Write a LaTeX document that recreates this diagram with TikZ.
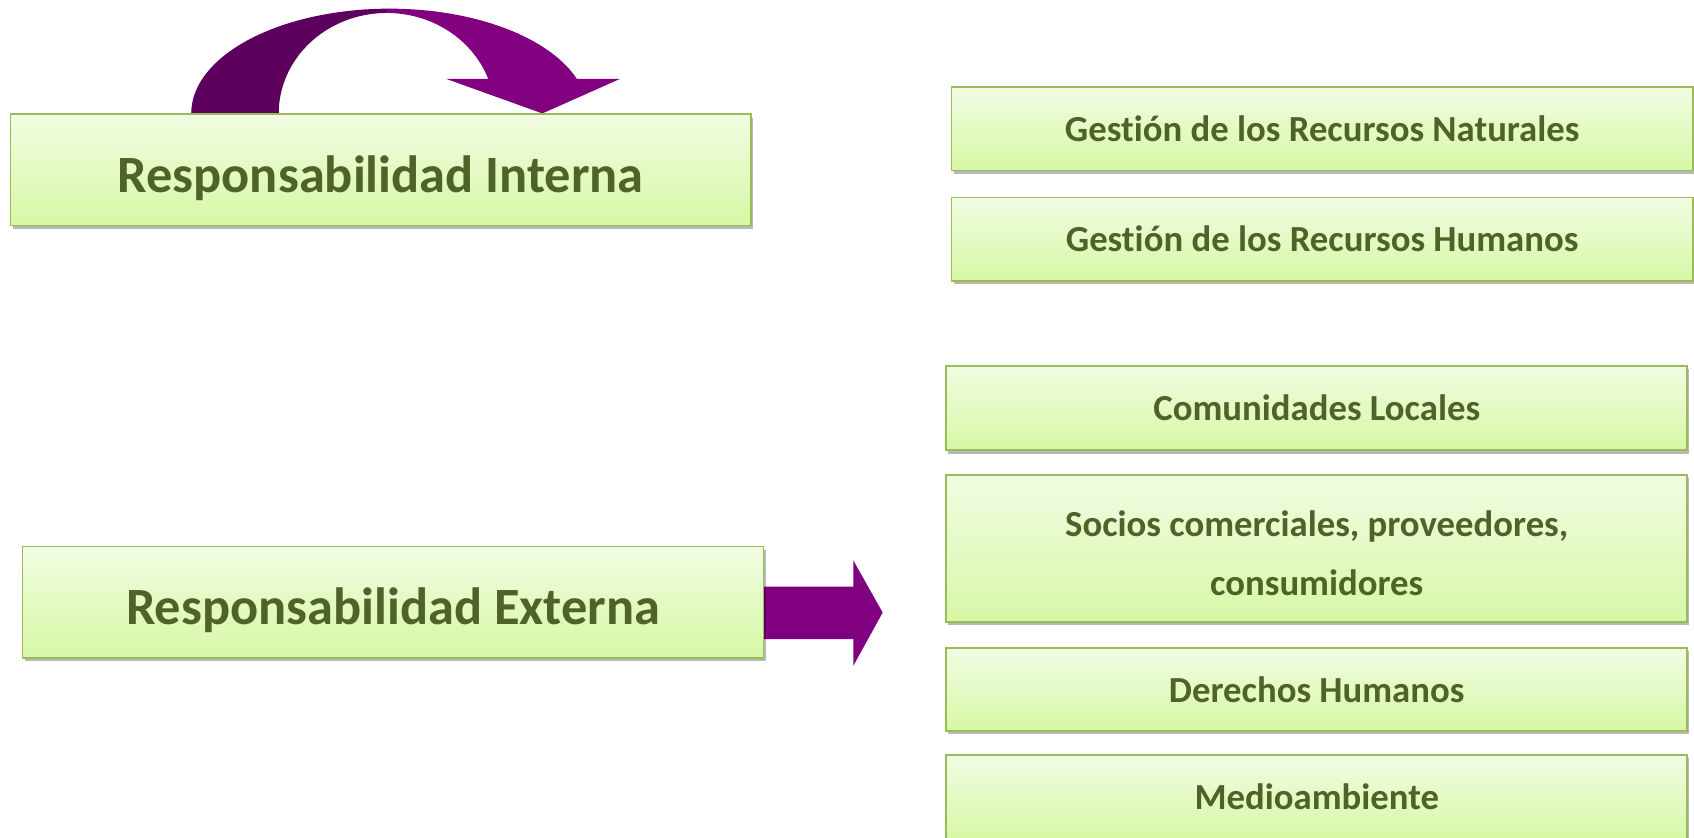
\documentclass[tikz,border=0pt]{standalone}
\usepackage{fontspec}
\setmainfont{Carlito}[Ligatures=NoCommon, Contextuals=NoAlternate]
\usetikzlibrary{shadows}
\definecolor{boxtop}{HTML}{F1FCE3}
\definecolor{boxbot}{HTML}{D7F8A5}
\definecolor{boxborder}{HTML}{9BBB59}
\definecolor{txt}{HTML}{4F6228}
\definecolor{purpdark}{HTML}{5E005E}
\definecolor{purpbright}{HTML}{800080}
\newcommand{\noligti}{t\kern0pt i}
\tikzset{
  gbox/.style={draw=boxborder, line width=1.6pt, top color=boxtop, bottom color=boxbot,
    anchor=north west, inner sep=0pt, align=center, text=txt,
    drop shadow={shadow xshift=2pt, shadow yshift=-3pt, fill=black, opacity=0.28}},
  bigbox/.style={gbox, minimum width=685pt, minimum height=103pt,
    font=\fontsize{48.5}{58}\selectfont\bfseries, text height=42pt, text depth=0pt},
  smallbox/.style={gbox, minimum width=686pt, font=\fontsize{34}{55}\selectfont\bfseries,
    text height=23.5pt, text depth=0pt},
}
\begin{document}
\begin{tikzpicture}[x=1pt, y=-1pt]
\useasboundingbox (0,0) rectangle (1568,775.6);
% curved arrow (back part, darker)
\fill[purpdark] plot[domain=0:90, samples=50] ({360.6-183.6*cos(\x)}, {105-97*sin(\x)})
  -- plot[domain=90:0, samples=50] ({358-100*cos(\x)}, {105-93*sin(\x)}) -- cycle;
% curved arrow (front part with head)
\fill[purpbright] plot[domain=90:19.26, samples=50] ({360.6+183.6*cos(\x)}, {105-97*sin(\x)})
  -- (574,73) -- (502,105) -- (413,73)
  -- plot[domain=20.13:90, samples=50] ({358+100*cos(\x)}, {105-93*sin(\x)}) -- cycle;
% straight block arrow
\coordinate (tip) at (817,567);
\fill[purpbright] (706,543) -- (790,543) -- (790,519) -- (tip) -- (790,616) -- (790,591.5) -- (706,591.5) -- cycle;
% left boxes
\node[bigbox] (int) at (9,105) {Responsabilidad Interna};
\node[bigbox, minimum width=686pt] (ext) at (20,505) {Responsabilidad Externa};
% right boxes
\node[smallbox, minimum height=77pt] (grn) at (880,80) {Ges\noligti ón de los Recursos Naturales};
\node[smallbox, minimum height=77pt] (grh) at (880,182) {Ges\noligti ón de los Recursos Humanos};
\node[smallbox, minimum height=78pt] (com) at (875,338) {Comunidades Locales};
\node[smallbox, minimum height=136pt, text height=87.5pt] (soc) at (875,439) {Socios comerciales, proveedores,\\consumidores};
\node[smallbox, minimum height=77pt] (der) at (875,599) {Derechos Humanos};
\node[smallbox, minimum height=78pt] (med) at (875,698) {Medioambiente};
\end{tikzpicture}
\end{document}
